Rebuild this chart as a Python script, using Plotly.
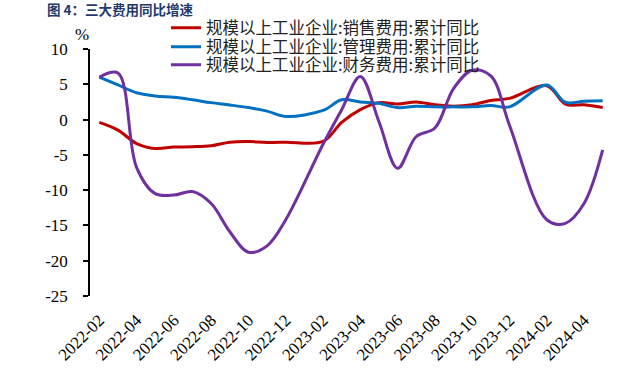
import plotly.graph_objects as go

# ---- data ----
months = ["2022-02", "2022-03", "2022-04", "2022-05", "2022-06", "2022-07", "2022-08",
          "2022-09", "2022-10", "2022-11", "2022-12",
          "2023-02", "2023-03", "2023-04", "2023-05", "2023-06", "2023-07", "2023-08",
          "2023-09", "2023-10", "2023-11", "2023-12",
          "2024-02", "2024-03", "2024-04", "2024-05"]

sales = [-0.4, -1.5, -3.4, -4.1, -3.9, -3.85, -3.7, -3.2, -3.1, -3.25, -3.2,
         -3.1, -0.4, 1.4, 2.4, 2.2, 2.5, 2.1, 1.9, 2.1, 2.7, 3.0,
         4.8, 2.2, 2.1, 1.7]

admin = [6.0, 4.9, 3.8, 3.35, 3.15, 2.8, 2.4, 2.07, 1.7, 1.2, 0.45,
         1.3, 2.8, 2.5, 2.3, 1.7, 1.9, 1.8, 1.8, 1.8, 2.0, 1.8,
         4.9, 2.45, 2.6, 2.65]

finance = [6.0, 6.6, -6.8, -10.5, -10.7, -10.2, -11.9, -15.9, -18.8, -17.9, -14.2,
           -3.5, 1.4, 6.1, -0.3, -6.9, -2.4, -1.2, 4.4, 7.0, 6.2, -0.8,
           -14.2, -14.7, -11.9, -4.3]

series_names = ["规模以上工业企业:销售费用:累计同比",
                "规模以上工业企业:管理费用:累计同比",
                "规模以上工业企业:财务费用:累计同比"]
series_colors = ["#C00000", "#0070C0", "#7030A0"]

x_tick_labels = ["2022-02", "2022-04", "2022-06", "2022-08", "2022-10", "2022-12",
                 "2023-02", "2023-04", "2023-06", "2023-08", "2023-10", "2023-12",
                 "2024-02", "2024-04"]
y_tick_vals = [10, 5, 0, -5, -10, -15, -20, -25]
y_tick_text = ["10", "5", "0", "-5", "-10", "-15", "-20", "-25"]

title_text = "图 4：三大费用同比增速"
source_text = "资料来源：Wind，信达证券研发中心"


def month_index(s):
    y, m = s.split("-")
    return (int(y) - 2022) * 12 + int(m) - 2


xs = [month_index(m) for m in months]
n_slots = month_index("2024-05") + 1

# pixel geometry of the plotting frame
TOP, BOTTOM, LEFT, RIGHT = 49, 296, 90, 612
H = BOTTOM - TOP
W = RIGHT - LEFT
YMIN, YMAX = -25, 10


def py(px):
    return (BOTTOM - px) / H


def pxx(px):
    return (px - LEFT) / W


fig = go.Figure()
legends = ["legend", "legend2", "legend3"]
for name, vals, col, lg in zip(series_names, [sales, admin, finance], series_colors, legends):
    fig.add_trace(go.Scatter(
        x=xs, y=vals, name=name, mode="lines",
        line=dict(color=col, width=3, shape="spline", smoothing=1),
        legend=lg, hoverinfo="skip",
    ))

serif = "Liberation Serif"
cjk = "Noto Sans CJK SC"

xrange_ = [-0.5, n_slots - 0.5]
fig.update_layout(
    width=636, height=380, autosize=False,
    font=dict(family=serif, color="black"),
    margin=dict(l=LEFT, r=636 - RIGHT, t=TOP, b=380 - BOTTOM, autoexpand=False),
    paper_bgcolor="white", plot_bgcolor="white",
    title=dict(text=title_text, x=47 / 636, xanchor="left", y=1 - 10 / 380, yanchor="middle",
               font=dict(family=cjk, size=13.5, color="#1F3B6E", weight="bold")),
    xaxis=dict(range=xrange_, showline=False, showgrid=False, zeroline=False,
               tickvals=[month_index(t) for t in x_tick_labels], ticktext=x_tick_labels,
               tickangle=-45, ticks="", tickfont=dict(family=serif, size=17, color="black"),
               ticklabelstandoff=10, automargin=False),
    xaxis2=dict(overlaying="x", anchor="free", position=(0 - YMIN) / (YMAX - YMIN),
                matches="x", range=xrange_, showline=True, linecolor="black", linewidth=1.5,
                showgrid=False, zeroline=False, showticklabels=False, automargin=False,
                tickvals=[v - 0.5 for v in range(0, n_slots + 1, 2)],
                ticks="outside", ticklen=5, tickwidth=1.5, tickcolor="black"),
    yaxis=dict(range=[YMIN, YMAX], showline=True, linecolor="black",
               linewidth=1.5, showgrid=False, zeroline=False, automargin=False,
               tickvals=y_tick_vals, ticktext=y_tick_text,
               ticks="outside", ticklen=5, tickwidth=1.5, tickcolor="black",
               tickfont=dict(family=serif, size=17, color="black"), ticklabelstandoff=12),
    showlegend=True,
)

leg_common = dict(xanchor="left", yanchor="middle", x=pxx(166),
                  bgcolor="rgba(0,0,0,0)", borderwidth=0, itemwidth=30,
                  font=dict(family=cjk, size=16.5, color="#222"))
fig.update_layout(
    legend=dict(y=py(28), **leg_common),
    legend2=dict(y=py(47), **leg_common),
    legend3=dict(y=py(65), **leg_common),
)

fig.add_annotation(text="%", xref="paper", yref="paper", x=pxx(82), y=py(34),
                   showarrow=False, xanchor="center", yanchor="middle",
                   font=dict(family=serif, size=17, color="black"))
fig.add_annotation(text=source_text, xref="paper", yref="paper", x=pxx(48),
                   y=py(375), showarrow=False, xanchor="left", yanchor="top",
                   font=dict(family=cjk, size=13, color="#333"))

fig.write_html("out.html", config={"displayModeBar": False},
               post_script="document.body.style.margin='0';")
